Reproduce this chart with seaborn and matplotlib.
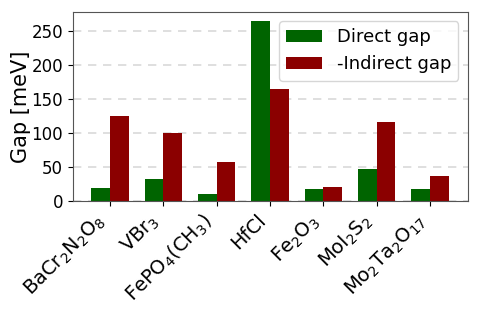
import pandas as pd
import numpy as np
import matplotlib.pyplot as plt
import seaborn as sns

# data
materials = ["BaCr$_2$N$_2$O$_8$", "VBr$_3$", "FePO$_4$(CH$_3$)", "HfCl",
             "Fe$_2$O$_3$", "MoI$_2$S$_2$", "Mo$_2$Ta$_2$O$_{17}$"]
direct_gap = [19, 33, 11, 265, 17.5, 47.5, 17]
indirect_gap = [124.5, 100, 58, 165.5, 21, 116.5, 36.5]
series_names = ["Direct gap", "-Indirect gap"]
colors = ["#006400", "#8b0000"]

df = pd.DataFrame({
    "material": materials * 2,
    "gap": direct_gap + indirect_gap,
    "kind": [series_names[0]] * len(materials) + [series_names[1]] * len(materials),
})

fig, ax = plt.subplots(figsize=(4.79, 3.19), dpi=100)
sns.barplot(data=df, x="material", y="gap", hue="kind", palette=colors,
            saturation=1, width=0.7, ax=ax, edgecolor="none")

ax.set_ylim(0, max(direct_gap + indirect_gap) * 1.05)
ax.set_xlim(-0.7, len(materials) - 0.3)
ax.yaxis.grid(True, linestyle=(0, (5, 4)), color="#d9d9d9", linewidth=1.2)
ax.set_axisbelow(True)
for s in ax.spines.values():
    s.set_color("#555555")

ax.set_xlabel("")
ax.set_ylabel("Gap [meV]", fontsize=15, labelpad=0)
ax.set_yticks([0, 50, 100, 150, 200, 250])
ax.tick_params(axis="y", labelsize=12)
ax.tick_params(axis="x", labelsize=14)
plt.setp(ax.get_xticklabels(), rotation=45, ha="right")

ax.legend(title=None, fontsize=13, loc="upper right")

fig.subplots_adjust(left=0.152, right=0.976, top=0.962, bottom=0.37)
fig.savefig("out.png", dpi=100)
